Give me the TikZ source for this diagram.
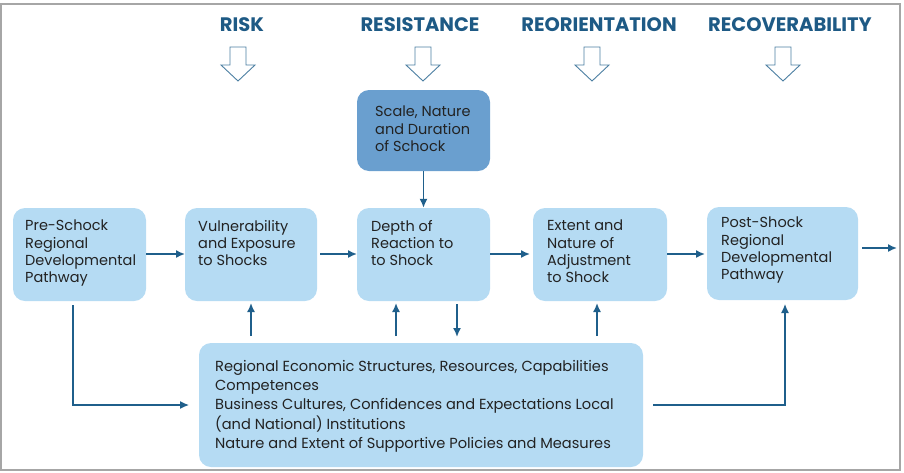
\documentclass[tikz,border=0pt]{standalone}
\usepackage{fontspec}
\setmainfont{Poppins}
\usetikzlibrary{arrows.meta}
\definecolor{hdr}{HTML}{1E5A85}
\definecolor{boxfill}{HTML}{B5DBF3}
\definecolor{boxdark}{HTML}{6A9FCF}
\definecolor{arr}{HTML}{1F5F8B}
\definecolor{txt}{HTML}{222222}
\definecolor{frame}{HTML}{A6A6A6}
\tikzset{
  box/.style={rounded corners=12pt, fill=boxfill, draw=none, inner sep=0pt},
  darkbox/.style={rounded corners=12pt, fill=boxdark, draw=none, inner sep=0pt},
  label/.style={anchor=north west, inner sep=0pt, align=left, text=txt,
    font=\fontsize{14.5}{17.3}\selectfont},
  biglabel/.style={anchor=north west, inner sep=0pt, align=left, text=txt,
    font=\fontsize{14.6}{19.3}\selectfont},
  heading/.style={inner sep=0pt, text=hdr, font=\fontsize{19.5}{21}\selectfont\bfseries},
  hollow/.style={draw=arr!80, fill=white, line width=0.9pt, line join=miter},
  conn/.style={draw=arr, line width=1.6pt, -{Latex[length=9pt,width=8pt]}},
}
\begin{document}
\begin{tikzpicture}[x=1pt,y=-1pt]
\useasboundingbox (0,0) rectangle (904,472);
\draw[frame, line width=2pt] (1,4) rectangle (900,470);

% headings
\node[heading] (hrisk) at (242,25) {RISK};
\node[heading] (hres) at (420,25) {RESISTANCE};
\node[heading] (hreo) at (599,25) {REORIENTATION};
\node[heading] (hrec) at (790,25) {RECOVERABILITY};

% hollow arrows
\foreach \cx/\nm in {238/ha, 423/hb, 592/hc, 783/hd}{
  \draw[hollow] (\cx-8,47) -- (\cx+8,47) -- (\cx+8,65) -- (\cx+17,65)
     -- (\cx,81) -- (\cx-17,65) -- (\cx-8,65) -- cycle;
  \coordinate (\nm) at (\cx,81);
}

% boxes
\node[darkbox, minimum width=133pt, minimum height=81pt] (scale) at (423.5,130.5) {};
\node[box, minimum width=133pt, minimum height=93pt] (pre) at (79.5,254.5) {};
\node[box, minimum width=132pt, minimum height=93pt] (vul) at (251,254.5) {};
\node[box, minimum width=133pt, minimum height=93pt] (dep) at (423.5,254.5) {};
\node[box, minimum width=134pt, minimum height=93pt] (ext) at (600,254.5) {};
\node[box, minimum width=151pt, minimum height=93pt] (post) at (782.5,253.5) {};
\node[box, minimum width=444pt, minimum height=124pt] (bot) at (421,405) {};

% texts
\node[label] (tscale) at (375,106) {Scale, Nature\\and Duration\\of Schock};
\node[label] (tpre) at (25,220) {Pre-Schock\\Regional\\Developmental\\Pathway};
\node[label] (tvul) at (198,220) {Vulnerability\\and Exposure\\to Shocks};
\node[label] (tdep) at (371,220) {Depth of\\Reaction to\\to Shock};
\node[label] (text) at (547,220) {Extent and\\Nature of\\Adjustment\\to Shock};
\node[label] (tpost) at (721,217) {Post-Shock\\Regional\\Developmental\\Pathway};
\node[biglabel] (tbot) at (215,360) {Regional Economic Structures, Resources, Capabilities\\Competences\\Business Cultures, Confidences and Expectations Local\\(and National) Institutions\\Nature and Extent of Supportive Policies and Measures};

% horizontal connectors
\coordinate (vulW) at (185,254);
\draw[conn] (146,254) -- (vulW);
\draw[conn] (320,254) -- (357,254);
\draw[conn] (490,254) -- (530,254);
\draw[conn] (667,254) -- (705,254);
\coordinate (outE) at (897,248);
\draw[conn] (862,248) -- (outE);

% scale -> depth
\draw[conn] (scale.south) -- (dep.north);

% vertical between bottom box and row
\draw[conn] (251,336) -- (251,303);
\draw[conn] (396,336) -- (396,303);
\draw[conn] (457,304) -- (457,337);
\draw[conn] (597,336) -- (597,303);

% pre -> bottom box
\draw[conn, line width=1.3pt] (73,305) |- (189,405);
% bottom -> post
\draw[conn, line width=1.3pt] (653,405) -| (785,304);
\end{tikzpicture}
\end{document}
